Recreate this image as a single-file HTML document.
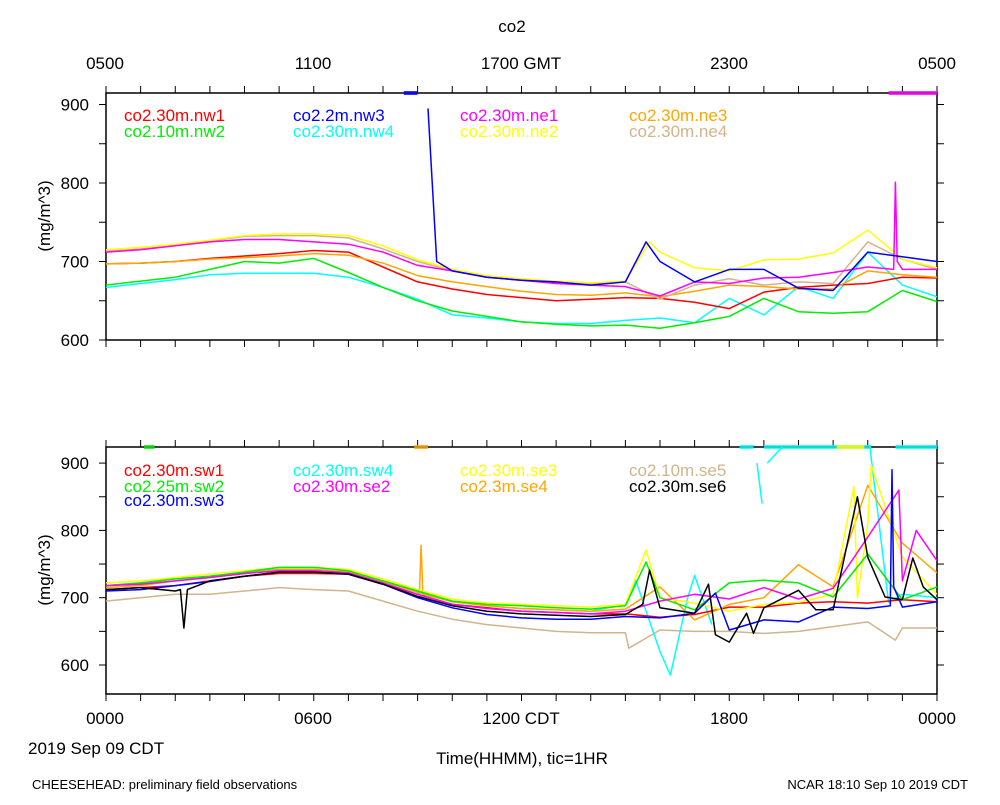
<!DOCTYPE html>
<html><head><meta charset="utf-8"><style>
body{margin:0;background:#fff;}
svg text{font-family:"Liberation Sans",sans-serif;}
</style></head><body>
<svg id="chart" width="1000" height="800" xmlns="http://www.w3.org/2000/svg">
<defs>
<clipPath id="clipTop"><rect x="106" y="93" width="831" height="247"/></clipPath>
<clipPath id="clipBot"><rect x="106" y="447" width="831" height="247"/></clipPath>
</defs>
<text x="512" y="32" font-size="17" text-anchor="middle">co2</text>
<g id="topAxisLabels" font-size="17" text-anchor="middle">
<text x="105" y="69">0500</text><text x="313" y="69">1100</text><text x="521" y="69">1700 GMT</text><text x="729" y="69">2300</text><text x="937" y="69">0500</text>
</g>
<g id="botAxisLabels" font-size="17" text-anchor="middle">
<text x="105" y="724">0000</text><text x="313" y="724">0600</text><text x="521" y="724">1200 CDT</text><text x="729" y="724">1800</text><text x="937" y="724">0000</text>
</g>
<text x="28" y="754" font-size="17">2019 Sep 09 CDT</text>
<text x="522" y="764" font-size="17" text-anchor="middle">Time(HHMM), tic=1HR</text>
<text x="32" y="789" font-size="13">CHEESEHEAD: preliminary field observations</text>
<text x="968" y="789" font-size="13" text-anchor="end">NCAR 18:10 Sep 10 2019 CDT</text>
<text transform="translate(50,216) rotate(-90)" font-size="17" text-anchor="middle">(mg/m^3)</text>
<text transform="translate(50,570) rotate(-90)" font-size="17" text-anchor="middle">(mg/m^3)</text>
<g id="layer"></g>
</svg>
<script>
const hours=[0,1,2,3,4,5,6,7,8,9,10,11,12,13,14,15,16,17,18,19,20,21,22,23,24];
const yTicks=[600,700,800,900];
// top panel
const nw1=[697,698,700,704,707,710,714,712,693,674,665,658,654,650,652,654,653,648,640,661,667,670,672,680,679];
const nw2=[670,675,680,690,700,698,704,686,667,650,637,630,623,620,618,619,615,622,630,653,636,634,636,663,649];
const nw3=[null,null,null,null,null,null,null,null,null,null,688,680,676,674,670,674,700,674,690,690,666,663,712,706,700];
const nw3ExtraT=[9.3,9.55,15.6];
const nw3ExtraV=[895,700,725];
const nw4=[667,672,677,683,685,685,685,680,667,652,632,628,623,621,621,625,628,622,653,632,668,653,712,670,655];
const ne1=[712,715,720,725,728,728,725,722,712,695,688,680,676,672,670,668,656,674,672,679,680,686,693,690,690];
const ne1ExtraT=[22.75,22.8,22.85];
const ne1ExtraV=[690,801,700];
const ne2=[715,718,722,727,733,735,735,733,720,702,690,682,678,675,673,675,712,692,688,702,703,711,740,703,692];
const ne2ExtraT=[15.7];
const ne2ExtraV=[725];
const ne3=[697,698,700,703,705,707,710,708,698,682,674,668,662,658,657,660,655,662,670,668,665,665,688,683,680];
const ne4=[713,716,720,726,732,733,733,730,716,700,688,680,676,673,672,674,652,670,678,670,674,672,725,703,690];
// bottom panel
const sw1=[712,715,718,725,732,736,736,735,720,705,690,685,680,678,676,676,671,675,686,686,692,694,692,697,694];
const sw2=[718,722,728,732,738,745,745,740,725,710,695,690,688,685,683,688,700,682,722,726,722,701,765,697,716];
const sw2ExtraT=[15.6];
const sw2ExtraV=[753];
const sw3=[710,712,718,724,732,738,738,735,720,700,685,675,670,668,668,672,670,677,652,667,664,686,684,686,694];
const sw3ExtraT=[17.6,22.65,22.7,22.75];
const sw3ExtraV=[707,688,890,716];
const sw4=[718,722,728,732,738,742,742,738,724,708,694,688,684,682,680,690,620,733,null,null,950,950,950,705,700];
const sw4ExtraT=[15.3,15.6,16.3,16.8,17.5,17.6,18.8,18.95,19.1,22.6];
const sw4ExtraV=[726,680,585,700,660,null,900,840,900,693];
const se2=[718,720,725,730,736,740,740,737,722,705,690,684,680,678,676,680,695,705,698,715,698,714,790,725,755];
const se2ExtraT=[22.9,23.4];
const se2ExtraV=[860,800];
const se3=[722,725,730,735,740,745,745,742,728,712,698,692,690,688,686,690,700,692,680,690,693,705,810,760,705];
const se3ExtraT=[15.6,21.6,21.7,22.1];
const se3ExtraV=[771,865,700,897];
const se4=[715,718,725,730,736,742,742,738,724,708,694,688,684,682,680,683,716,667,690,700,749,716,867,781,737];
const se4ExtraT=[9.05,9.1,9.15];
const se4ExtraV=[706,778,705];
const se5=[695,700,705,705,710,715,712,710,695,680,668,660,655,650,648,648,652,650,650,647,650,657,664,655,655];
const se5ExtraT=[15.1,22.8];
const se5ExtraV=[625,637];
const se6=[712,715,710,725,732,738,738,735,720,702,688,680,676,674,672,675,685,677,634,685,711,682,760,697,697];
const se6ExtraT=[2.15,2.25,2.35,15.5,15.7,17.4,17.6,18.5,18.7,20.5,21.7,22.5,23.3,23.6];
const se6ExtraV=[712,655,712,690,741,720,645,677,647,682,850,701,759,716];

const NS="http://www.w3.org/2000/svg";
const layer=document.getElementById('layer');
function el(tag,attrs,parent){const e=document.createElementNS(NS,tag);for(const k in attrs)e.setAttribute(k,attrs[k]);(parent||layer).appendChild(e);return e;}
const X0=106,X1=937;
function xScale(h){return X0+h*(X1-X0)/24;}
const panels={
 top:{y0:93,y1:340,vmin:600,ppu:0.785,clip:'clipTop'},
 bot:{y0:447,y1:694,vmin:600,ppu:0.673,clip:'clipBot'}
};
panels.bot.base=665;panels.top.base=340;
function yScale(p,v){return p.base-(v-p.vmin)*p.ppu;}

function drawFrame(p,key){
 const g=el('g',{});
 
 
 el('rect',{x:X0,y:p.y0,width:X1-X0,height:p.y1-p.y0,fill:'none',stroke:'#000','stroke-width':1.5},g);
 for(let h=0;h<=24;h++){
  const x=xScale(h);
  el('line',{x1:x,x2:x,y1:p.y0,y2:p.y0-7,stroke:'#000','stroke-width':1},g);
  el('line',{x1:x,x2:x,y1:p.y1,y2:p.y1+7,stroke:'#000','stroke-width':1},g);
 }
 for(let v=550;v<=950;v+=50){
  const y=yScale(p,v);
  if(y<p.y0-0.5||y>p.y1+0.5)continue;
  el('line',{x1:X0,x2:X0-7,y1:y,y2:y,stroke:'#000'},g);
  el('line',{x1:X1,x2:X1+7,y1:y,y2:y,stroke:'#000'},g);
 }
 yTicks.forEach(v=>{
  const t=el('text',{x:89,y:yScale(p,v)+6,'font-size':17,'text-anchor':'end'},g);
  
  
  t.textContent=v;
 });
}
drawFrame(panels.top,'top');drawFrame(panels.bot,'bot');

function drawSeries(p,name,color,vals,et,ev,width){
 let pts=[];
 hours.forEach((h,i)=>pts.push([h,vals[i]]));
 if(et)et.forEach((t,i)=>pts.push([t,ev[i]]));
 pts.sort((a,b)=>a[0]-b[0]);
 let d='',pen=false;
 pts.forEach(([t,v])=>{
  if(v===null||v===undefined){pen=false;return;}
  d+=(pen?'L':'M')+xScale(t).toFixed(1)+' '+yScale(p,v).toFixed(1);pen=true;
 });
 const path=el('path',{d:d,fill:'none',stroke:color,'stroke-width':width||1.5,'clip-path':'url(#'+p.clip+')','stroke-linejoin':'round'});
 
 
}
const T=panels.top,B=panels.bot;
drawSeries(T,'nw4','#00ffff',nw4);
drawSeries(T,'nw2','#00ee00',nw2);
drawSeries(T,'nw1','#ff0000',nw1);
drawSeries(T,'ne3','#ffa500',ne3);
drawSeries(T,'ne4','#d2b48c',ne4);
drawSeries(T,'ne2','#ffff00',ne2,ne2ExtraT,ne2ExtraV);
drawSeries(T,'ne1','#ff00ff',ne1,ne1ExtraT,ne1ExtraV);
drawSeries(T,'nw3','#0000ff',nw3,nw3ExtraT,nw3ExtraV);

drawSeries(B,'se5','#d2b48c',se5,se5ExtraT,se5ExtraV);
drawSeries(B,'sw4','#00ffff',sw4,sw4ExtraT,sw4ExtraV);
drawSeries(B,'sw1','#ff0000',sw1);
drawSeries(B,'se4','#ffa500',se4,se4ExtraT,se4ExtraV);
drawSeries(B,'se3','#ffff00',se3,se3ExtraT,se3ExtraV);
drawSeries(B,'sw2','#00ee00',sw2,sw2ExtraT,sw2ExtraV);
drawSeries(B,'se2','#ff00ff',se2,se2ExtraT,se2ExtraV);
drawSeries(B,'sw3','#0000ff',sw3,sw3ExtraT,sw3ExtraV);
drawSeries(B,'se6','#000000',se6,se6ExtraT,se6ExtraV);

function marker(y,h0,h1,color,name){
 const r=el('rect',{x:xScale(h0),y:y,width:xScale(h1)-xScale(h0),height:4,fill:color,opacity:0.8});
 
 
}
marker(91,8.6,9.0,'#0000ff','nw3-offscale-marker');
marker(91,22.6,24,'#ff00ff','ne1-offscale-marker');
marker(445,1.1,1.4,'#00ee00','sw2-offscale-marker');
marker(445,8.9,9.3,'#ffa500','se4-offscale-marker');
marker(445,18.3,18.7,'#00ffff','sw4-offscale-marker-1');
marker(445,19.0,22.1,'#00ffff','sw4-offscale-marker-2');
marker(445,21.1,21.9,'#ffff00','se3-offscale-marker');
marker(445,22.8,24,'#00ffff','sw4-offscale-marker-3');

function legend(x,y,text,color){
 const t=el('text',{x:x,y:y,'font-size':17,fill:color});
 
 
 t.textContent=text;
}
legend(124,121,'co2.30m.nw1','#ff0000');legend(124,137,'co2.10m.nw2','#00ee00');
legend(293,121,'co2.2m.nw3','#0000ff');legend(293,137,'co2.30m.nw4','#00ffff');
legend(460,121,'co2.30m.ne1','#ff00ff');legend(460,137,'co2.30m.ne2','#ffff00');
legend(629,121,'co2.30m.ne3','#ffa500');legend(629,137,'co2.30m.ne4','#d2b48c');
legend(124,476,'co2.30m.sw1','#ff0000');legend(124,492,'co2.25m.sw2','#00ee00');legend(124,506,'co2.30m.sw3','#0000ff');
legend(293,476,'co2.30m.sw4','#00ffff');legend(293,492,'co2.30m.se2','#ff00ff');
legend(460,476,'co2.30m.se3','#ffff00');legend(460,492,'co2.3m.se4','#ffa500');
legend(629,476,'co2.10m.se5','#d2b48c');legend(629,492,'co2.30m.se6','#000000');
</script>
</body></html>
